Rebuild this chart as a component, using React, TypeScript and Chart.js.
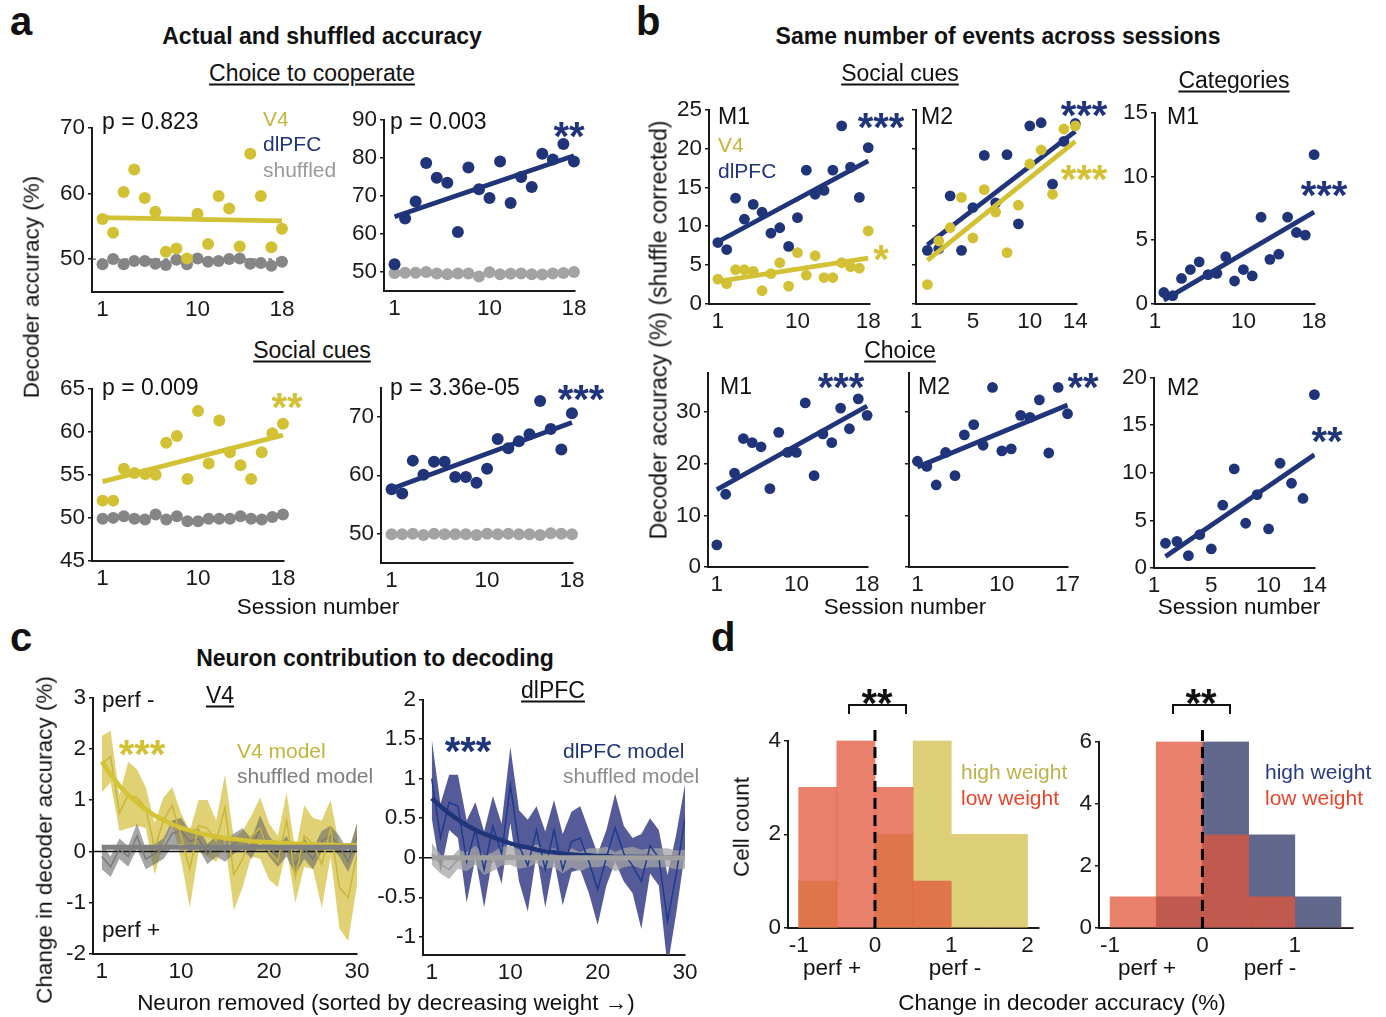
import React, { useEffect, useRef } from 'react';
import { Chart, registerables } from 'chart.js';

Chart.register(...registerables);

const FONT = '"Liberation Sans", Arial, Helvetica, sans-serif';
const INK = '#1a1a1a';
const YEL = '#d3c135';
const YEL_TXT = '#c4b43c';
const BLUE = '#1f3479';
const GREY_D = '#858585';
const GREY_L = '#a3a3a3';
const TICK_SIZE = 22.5;
const R_A = 6;
const R_B = 5.4;

// ---------------- Panel a : actual and shuffled accuracy ----------------
const aChoiceV4 = [56.1, 54.0, 60.2, 63.6, 59.3, 57.2, 51.1, 51.6, 50.1, 56.9, 52.3, 59.6, 57.7, 51.9, 66.0, 59.6, 51.8, 54.6];
const aChoiceV4Shuf = [49.2, 50.0, 49.2, 49.7, 49.7, 49.3, 49.1, 49.9, 49.2, 50.1, 49.6, 49.7, 50.0, 50.1, 49.3, 49.4, 49.0, 49.6];
const aChoiceV4Fit = [56.3, 55.8];
const aChoicePFC = [52.0, 64.0, 68.5, 78.6, 74.7, 73.4, 60.5, 77.4, 71.7, 69.4, 79.0, 68.1, 74.9, 72.3, 81.0, 79.5, 83.6, 79.0];
const aChoicePFCShuf = [49.7, 49.8, 49.8, 50.0, 49.6, 49.4, 49.6, 49.6, 48.8, 49.9, 49.4, 49.5, 49.6, 49.4, 49.3, 49.6, 49.7, 50.0];
const aChoicePFCFit = [64.5, 80.5];
const aSocialV4 = [52.0, 52.0, 55.7, 55.2, 55.1, 55.0, 58.7, 59.5, 54.5, 62.4, 56.3, 61.3, 57.6, 56.1, 54.5, 57.6, 59.8, 60.9];
const aSocialV4Shuf = [49.9, 50.0, 50.2, 49.9, 49.8, 50.4, 49.8, 50.2, 49.6, 49.6, 49.9, 49.9, 49.9, 50.2, 49.9, 49.8, 50.1, 50.4];
const aSocialV4Fit = [54.2, 59.6];
const aSocialPFC = [57.6, 56.9, 62.5, 60.1, 62.3, 62.3, 59.7, 59.7, 58.7, 61.1, 66.2, 64.6, 65.8, 67.0, 72.7, 67.9, 64.4, 70.6];
const aSocialPFCShuf = [49.9, 49.9, 50.0, 49.8, 50.0, 49.9, 49.9, 49.9, 49.8, 50.0, 49.9, 50.0, 49.9, 49.9, 49.8, 50.1, 50.0, 49.9];
const aSocialPFCFit = [57.7, 69.0];
const aChance = 50;
const aXTicks = [1, 10, 18];

// ---------------- Panel b : same number of events ----------------
const bSocM1PFC = [7.9, 7.0, 13.6, 10.9, 12.8, 11.8, 9.1, 9.8, 7.4, 11.1, 17.2, 14.1, 14.6, 17.2, 22.9, 17.6, 13.7, 20.1];
const bSocM1PFCFit = [8.0, 18.4];
const bSocM1V4 = [3.2, 2.6, 4.4, 4.4, 4.2, 1.7, 3.9, 5.3, 2.3, 6.6, 3.7, 6.2, 3.4, 3.4, 5.3, 4.8, 4.6, 9.4];
const bSocM1V4Fit = [2.9, 5.9];
const bSocM2PFC = [6.9, 7.1, 13.9, 6.9, 12.4, 19.1, 13.0, 19.2, 10.3, 22.9, 23.3, 15.4, 20.9, 23.2];
const bSocM2PFCFit = [7.6, 22.2];
const bSocM2V4 = [2.5, 8.1, 9.8, 13.7, 8.5, 14.7, 11.8, 6.6, 12.7, 18.0, 19.8, 14.1, 22.5, 22.9];
const bSocM2V4Fit = [5.6, 20.9];
const bCatM1 = [0.9, 0.65, 2.0, 2.7, 3.3, 2.3, 2.4, 3.7, 1.8, 2.7, 2.2, 6.8, 3.5, 3.9, 6.8, 5.6, 5.4, 11.7];
const bCatM1Fit = [0.3, 7.2];
const bChoiceM1 = [4.3, 14.1, 18.2, 24.9, 24.1, 23.3, 15.2, 26.1, 22.2, 22.2, 31.8, 17.7, 25.8, 24.1, 30.8, 26.8, 32.6, 29.4];
const bChoiceM1Fit = [15.0, 31.2];
const bChoiceM2 = [20.5, 19.5, 15.9, 22.2, 17.7, 25.6, 27.6, 23.6, 34.8, 22.5, 22.9, 29.4, 29.0, 32.4, 22.1, 34.8, 29.7];
const bChoiceM2Fit = [19.4, 31.4];
const bCatM2 = [2.6, 2.8, 1.3, 3.5, 2.0, 6.6, 10.4, 4.7, 7.7, 4.1, 11.0, 8.9, 7.3, 18.2];
const bCatM2Fit = [1.2, 11.9];

// ---------------- Panel c : neuron contribution ----------------
const cV4Mean = [1.7, 1.85, 0.75, 1.1, 1.05, 0.85, 0.05, 0.6, 0.9, 0.3, -0.35, 0.5, 0.45, 0.2, 0.85, -0.45, -0.15, 0.3, 0.45, 0.0, -0.2, 0.6, -0.5, 0.3, 0.15, -0.25, 0.45, -0.7, -0.9, -0.05];
const cV4Sem = [0.55, 0.5, 0.35, 0.65, 0.55, 0.4, 0.5, 0.45, 0.35, 0.45, 0.75, 0.5, 0.55, 0.4, 0.65, 0.7, 0.55, 0.4, 0.6, 0.55, 0.5, 0.55, 0.5, 0.6, 0.5, 0.85, 0.55, 0.8, 0.85, 0.6];
const cV4Fit = [1.75, 1.5, 1.28, 1.1, 0.95, 0.82, 0.7, 0.61, 0.53, 0.46, 0.41, 0.36, 0.32, 0.29, 0.26, 0.24, 0.22, 0.2, 0.19, 0.18, 0.17, 0.16, 0.15, 0.14, 0.14, 0.13, 0.13, 0.12, 0.12, 0.12];
const cV4ShufMean = [-0.1, -0.3, 0.05, -0.1, 0.3, -0.15, -0.05, 0.05, 0.35, 0.4, 0.2, 0.25, -0.05, 0.1, 0.0, 0.15, 0.25, 0.05, 0.45, 0.1, -0.1, 0.1, -0.25, 0.05, -0.15, 0.2, 0.3, 0.1, -0.2, 0.3];
const cV4ShufSem = [0.25, 0.2, 0.2, 0.2, 0.25, 0.2, 0.2, 0.2, 0.25, 0.25, 0.2, 0.2, 0.2, 0.2, 0.2, 0.2, 0.2, 0.2, 0.25, 0.2, 0.2, 0.2, 0.2, 0.2, 0.2, 0.2, 0.2, 0.2, 0.2, 0.25];
const cV4ShufFit = [0.08, 0.08];
const cPFCMean = [1.0, 0.25, 0.7, 0.65, -0.05, 0.35, -0.15, 0.4, 0.05, 0.92, 0.15, -0.1, 0.35, -0.15, 0.35, -0.15, 0.2, 0.25, -0.05, -0.4, 0.0, 0.38, 0.05, -0.1, -0.3, 0.15, 0.0, -0.8, -0.2, 0.5];
const cPFCSem = [0.5, 0.43, 0.35, 0.4, 0.52, 0.35, 0.48, 0.38, 0.38, 0.48, 0.45, 0.58, 0.3, 0.48, 0.38, 0.45, 0.38, 0.4, 0.4, 0.45, 0.35, 0.43, 0.35, 0.35, 0.6, 0.35, 0.35, 0.58, 0.5, 0.43];
const cPFCFit = [0.75, 0.65, 0.56, 0.48, 0.41, 0.35, 0.3, 0.26, 0.22, 0.18, 0.15, 0.13, 0.1, 0.08, 0.07, 0.05, 0.04, 0.03, 0.03, 0.02, 0.02, 0.01, 0.01, 0.01, 0.01, 0.01, 0.0, 0.0, 0.0, 0.0];
const cPFCShufMean = [0.05, -0.08, -0.15, -0.02, -0.05, 0.03, -0.1, -0.05, 0.02, 0.03, -0.02, 0.0, 0.05, -0.02, 0.0, -0.08, 0.0, -0.05, 0.0, 0.0, 0.02, -0.05, 0.0, 0.02, -0.02, 0.0, 0.0, 0.0, -0.03, -0.02];
const cPFCShufSem = [0.14, 0.12, 0.12, 0.12, 0.12, 0.12, 0.12, 0.12, 0.12, 0.12, 0.12, 0.12, 0.12, 0.12, 0.12, 0.12, 0.12, 0.12, 0.12, 0.12, 0.12, 0.12, 0.12, 0.12, 0.12, 0.12, 0.12, 0.12, 0.12, 0.12];
const cPFCShufFit = [0.0, 0.0];
const cXTicks = [1, 10, 20, 30];

// ---------------- Panel d : histograms ----------------
const dBinCenters = [-0.75, -0.25, 0.25, 0.75, 1.25, 1.75];
const dV4Low = [3, 4, 3, 1, 0, 0];
const dV4High = [1, 0, 2, 4, 2, 2];
const dPFCLow = [1, 6, 3, 1, 0, 0];
const dPFCHigh = [0, 1, 6, 3, 1, 0];

type Area = { l: number; t: number; r: number; b: number };
type Dims = { axisW: number; axisH: number; padT: number; padR: number };
const DIMS: Dims = { axisW: 80, axisH: 40, padT: 16, padR: 22 };

function makeAxis(min: number, max: number, ticks: number[], labels: string[] | null, isY: boolean, d: Dims) {
  return {
    type: 'linear',
    position: isY ? 'left' : 'bottom',
    min,
    max,
    offset: false,
    afterBuildTicks: (s: any) => {
      s.ticks = ticks.map((v) => ({ value: v }));
    },
    afterFit: (s: any) => {
      if (isY) s.width = d.axisW;
      else s.height = d.axisH;
    },
    ticks: {
      autoSkip: false,
      maxRotation: 0,
      minRotation: 0,
      padding: isY ? 3 : 4,
      color: INK,
      font: { family: FONT, size: TICK_SIZE },
      callback: (v: any, i: number) => (labels ? labels[i] : String(v)),
    },
    grid: { display: true, offset: false, drawOnChartArea: false, drawTicks: isY, tickLength: 4, color: INK, lineWidth: 1.5 },
    border: { display: true, color: INK, width: 2 },
  };
}

function baseOptions(d: Dims, scales: any) {
  return {
    responsive: false,
    animation: false,
    devicePixelRatio: 1,
    events: [],
    layout: { padding: { top: d.padT, right: d.padR, left: 0, bottom: 0 }, autoPadding: false },
    plugins: { legend: { display: false }, tooltip: { enabled: false } },
    scales,
  };
}

type Pts = { values: number[]; color: string; r: number; order: number };
type Fit = { ends: number[]; x: number[]; color: string; order: number };
type ScatterSpec = {
  area: Area;
  x: number[];
  y: number[];
  xTicks: number[];
  xLabels?: string[];
  yTicks: number[];
  yLabels?: string[];
  pts: Pts[];
  fits: Fit[];
  chance?: number;
};

function scatterConfig(s: ScatterSpec, d: Dims) {
  const datasets: any[] = [];
  s.pts.forEach((p) =>
    datasets.push({
      data: p.values.map((v, i) => ({ x: i + 1, y: v })),
      showLine: false,
      pointRadius: p.r,
      pointBackgroundColor: p.color,
      pointBorderWidth: 0,
      borderColor: p.color,
      order: p.order,
      clip: false,
    })
  );
  s.fits.forEach((f) =>
    datasets.push({
      data: f.x.map((xv, i) => ({ x: xv, y: f.ends[i] })),
      borderColor: f.color,
      borderWidth: 4.8,
      pointRadius: 0,
      order: f.order,
    })
  );
  if (s.chance !== undefined) {
    datasets.push({
      data: [
        { x: s.x[0], y: s.chance },
        { x: s.x[1], y: s.chance },
      ],
      borderColor: '#333',
      borderWidth: 1,
      borderDash: [4, 4],
      pointRadius: 0,
      order: 10,
    });
  }
  return {
    type: 'line',
    data: { datasets },
    options: baseOptions(d, {
      x: makeAxis(s.x[0], s.x[1], s.xTicks, s.xLabels || null, false, d),
      y: makeAxis(s.y[0], s.y[1], s.yTicks, s.yLabels || null, true, d),
    }),
  };
}

type BandSpec = {
  mean: number[];
  sem: number[];
  fit: number[];
  shufMean: number[];
  shufSem: number[];
  shufFit: number[];
  band: string;
  line: string;
  fitColor: string;
  shufBand: string;
  shufLine: string;
  shufFitColor: string;
  y: number[];
  yTicks: number[];
  yLabels: string[];
};

function bandConfig(s: BandSpec, d: Dims) {
  const pts = (arr: number[]) => arr.map((v, i) => ({ x: i + 1, y: v }));
  const plain = { pointRadius: 0, borderWidth: 0 };
  const n = s.mean.length;
  const datasets: any[] = [
    { data: pts(s.mean.map((m, i) => m + s.sem[i])), ...plain, fill: '+1', backgroundColor: s.band, order: 8 },
    { data: pts(s.mean.map((m, i) => m - s.sem[i])), ...plain, fill: false, order: 8 },
    { data: pts(s.shufMean.map((m, i) => m + s.shufSem[i])), ...plain, fill: '+1', backgroundColor: s.shufBand, order: 7 },
    { data: pts(s.shufMean.map((m, i) => m - s.shufSem[i])), ...plain, fill: false, order: 7 },
    { data: [{ x: 0, y: 0 }, { x: n, y: 0 }], pointRadius: 0, borderWidth: 1.5, borderColor: '#111', order: 6 },
    { data: pts(s.mean), pointRadius: 0, borderWidth: 1.5, borderColor: s.line, order: 5 },
    { data: pts(s.shufMean), pointRadius: 0, borderWidth: 1.5, borderColor: s.shufLine, order: 5 },
    { data: pts(s.fit), pointRadius: 0, borderWidth: 4.5, borderColor: s.fitColor, order: 2 },
    { data: [{ x: 1, y: s.shufFit[0] }, { x: n, y: s.shufFit[1] }], pointRadius: 0, borderWidth: 5, borderColor: s.shufFitColor, order: 1 },
  ];
  return {
    type: 'line',
    data: { datasets },
    options: baseOptions(d, {
      x: makeAxis(0, 30, cXTicks, null, false, d),
      y: makeAxis(s.y[0], s.y[1], s.yTicks, s.yLabels, true, d),
    }),
  };
}

const zeroDash = {
  id: 'zeroDash',
  afterDatasetsDraw(chart: any) {
    const { ctx, chartArea, scales } = chart;
    const px = scales.x.getPixelForValue(0);
    ctx.save();
    ctx.setLineDash([11, 6]);
    ctx.lineWidth = 3;
    ctx.strokeStyle = '#000';
    ctx.beginPath();
    ctx.moveTo(px, chartArea.bottom);
    ctx.lineTo(px, chartArea.top - 12);
    ctx.stroke();
    ctx.restore();
  },
};

type HistSpec = { low: number[]; high: number[]; highColor: string; x: number[]; xTicks: number[]; y: number[]; yTicks: number[] };

function histConfig(s: HistSpec, d: Dims) {
  const common = { barPercentage: 1, categoryPercentage: 1, grouped: false, borderWidth: 0 };
  return {
    type: 'bar',
    data: {
      datasets: [
        { data: dBinCenters.map((c, i) => ({ x: c, y: s.low[i] })), backgroundColor: 'rgba(224,86,59,0.75)', order: 0, ...common },
        { data: dBinCenters.map((c, i) => ({ x: c, y: s.high[i] })), backgroundColor: s.highColor, order: 1, ...common },
      ],
    },
    options: baseOptions(d, {
      x: makeAxis(s.x[0], s.x[1], s.xTicks, null, false, d),
      y: makeAxis(s.y[0], s.y[1], s.yTicks, null, true, d),
    }),
    plugins: [zeroDash],
  };
}

function ChartBox({ area, make }: { area: Area; make: (d: Dims) => any }) {
  const ref = useRef<HTMLCanvasElement | null>(null);
  const d = DIMS;
  const w = area.r - area.l + d.axisW + d.padR;
  const h = area.b - area.t + d.padT + d.axisH;
  useEffect(() => {
    if (!ref.current) return;
    const chart = new Chart(ref.current, make(d));
    return () => chart.destroy();
  }, []);
  return (
    <canvas
      ref={ref}
      width={w}
      height={h}
      style={{ position: 'absolute', left: area.l - d.axisW, top: area.t - d.padT, width: w, height: h, display: 'block' }}
    />
  );
}

const blank = (n: number) => Array(n).fill('');

const scatterSpecs: ScatterSpec[] = [
  {
    area: { l: 92, t: 127, r: 283, b: 292 }, x: [0, 18.1], y: [45, 70], xTicks: aXTicks, yTicks: [50, 60, 70],
    pts: [
      { values: aChoiceV4, color: YEL, r: R_A, order: 1 },
      { values: aChoiceV4Shuf, color: GREY_D, r: R_A, order: 2 },
    ],
    fits: [{ ends: aChoiceV4Fit, x: [1, 18], color: YEL, order: 0 }],
    chance: aChance,
  },
  {
    area: { l: 384, t: 119, r: 575, b: 291 }, x: [0, 18.1], y: [45, 90], xTicks: aXTicks, yTicks: [50, 60, 70, 80, 90],
    pts: [
      { values: aChoicePFC, color: BLUE, r: R_A, order: 1 },
      { values: aChoicePFCShuf, color: GREY_L, r: R_A, order: 2 },
    ],
    fits: [{ ends: aChoicePFCFit, x: [1, 18], color: BLUE, order: 0 }],
  },
  {
    area: { l: 92, t: 388, r: 284, b: 561 }, x: [0, 18.1], y: [45, 65], xTicks: aXTicks, yTicks: [45, 50, 55, 60, 65],
    pts: [
      { values: aSocialV4, color: YEL, r: R_A, order: 1 },
      { values: aSocialV4Shuf, color: GREY_D, r: R_A, order: 2 },
    ],
    fits: [{ ends: aSocialV4Fit, x: [1, 18], color: YEL, order: 0 }],
  },
  {
    area: { l: 381, t: 387, r: 573, b: 563 }, x: [0, 18.1], y: [45, 75], xTicks: aXTicks, yTicks: [50, 60, 70],
    pts: [
      { values: aSocialPFC, color: BLUE, r: R_A, order: 1 },
      { values: aSocialPFCShuf, color: GREY_L, r: R_A, order: 2 },
    ],
    fits: [{ ends: aSocialPFCFit, x: [1, 18], color: BLUE, order: 0 }],
  },
  {
    area: { l: 709, t: 109, r: 870, b: 304 }, x: [0, 18.2], y: [0, 25], xTicks: [1, 10, 18], yTicks: [0, 5, 10, 15, 20, 25],
    pts: [
      { values: bSocM1PFC, color: BLUE, r: R_B, order: 1 },
      { values: bSocM1V4, color: YEL, r: R_B, order: 3 },
    ],
    fits: [
      { ends: bSocM1PFCFit, x: [1, 18], color: BLUE, order: 0 },
      { ends: bSocM1V4Fit, x: [1, 18], color: YEL, order: 2 },
    ],
  },
  {
    area: { l: 916, t: 109, r: 1077, b: 304 }, x: [0, 14.15], y: [0, 25], xTicks: [0, 5, 10, 14], xLabels: ['1', '5', '10', '14'],
    yTicks: [0, 5, 10, 15, 20, 25], yLabels: blank(6),
    pts: [
      { values: bSocM2V4, color: YEL, r: R_B, order: 0 },
      { values: bSocM2PFC, color: BLUE, r: R_B, order: 3 },
    ],
    fits: [
      { ends: bSocM2V4Fit, x: [1, 14], color: YEL, order: 1 },
      { ends: bSocM2PFCFit, x: [1, 14], color: BLUE, order: 2 },
    ],
  },
  {
    area: { l: 1155, t: 112, r: 1315, b: 304 }, x: [0, 18.1], y: [0, 15], xTicks: [0, 10, 18], xLabels: ['1', '10', '18'],
    yTicks: [0, 5, 10, 15],
    pts: [{ values: bCatM1, color: BLUE, r: R_B, order: 1 }],
    fits: [{ ends: bCatM1Fit, x: [1, 18], color: BLUE, order: 0 }],
  },
  {
    area: { l: 708, t: 372, r: 868, b: 567 }, x: [0, 18.1], y: [0, 37.7], xTicks: [1, 10, 18], yTicks: [0, 10, 20, 30],
    pts: [{ values: bChoiceM1, color: BLUE, r: R_B, order: 1 }],
    fits: [{ ends: bChoiceM1Fit, x: [1, 18], color: BLUE, order: 0 }],
  },
  {
    area: { l: 909, t: 372, r: 1068, b: 567 }, x: [0.1, 17.05], y: [0, 37.7], xTicks: [1, 10, 17], yTicks: [0, 10, 20, 30],
    yLabels: blank(4),
    pts: [{ values: bChoiceM2, color: BLUE, r: R_B, order: 1 }],
    fits: [{ ends: bChoiceM2Fit, x: [1, 17], color: BLUE, order: 0 }],
  },
  {
    area: { l: 1154, t: 377, r: 1315, b: 568 }, x: [0, 14.05], y: [0, 20], xTicks: [0, 5, 10, 14], xLabels: ['1', '5', '10', '14'],
    yTicks: [0, 5, 10, 15, 20],
    pts: [{ values: bCatM2, color: BLUE, r: R_B, order: 1 }],
    fits: [{ ends: bCatM2Fit, x: [1, 14], color: BLUE, order: 0 }],
  },
];

const bandSpecs: { area: Area; spec: BandSpec }[] = [
  {
    area: { l: 93, t: 697, r: 357, b: 954 },
    spec: {
      mean: cV4Mean, sem: cV4Sem, fit: cV4Fit, shufMean: cV4ShufMean, shufSem: cV4ShufSem, shufFit: cV4ShufFit,
      band: 'rgba(212,194,70,0.75)', line: '#c9b63a', fitColor: '#d6c235',
      shufBand: 'rgba(105,105,105,0.6)', shufLine: '#7a7a7a', shufFitColor: '#808080',
      y: [-2, 3], yTicks: [-2, -1, 0, 1, 2, 3], yLabels: ['-2', '-1', '0', '1', '2', '3'],
    },
  },
  {
    area: { l: 423, t: 699, r: 685, b: 955 },
    spec: {
      mean: cPFCMean, sem: cPFCSem, fit: cPFCFit, shufMean: cPFCShufMean, shufSem: cPFCShufSem, shufFit: cPFCShufFit,
      band: 'rgba(55,62,135,0.85)', line: '#1e3a8c', fitColor: '#1f3479',
      shufBand: 'rgba(165,165,165,0.75)', shufLine: '#9a9a9a', shufFitColor: '#a0a0a0',
      y: [-1.23, 2], yTicks: [-1, -0.5, 0, 0.5, 1, 1.5, 2], yLabels: ['-1', '-0.5', '0', '0.5', '1', '1.5', '2'],
    },
  },
];

const histSpecs: { area: Area; spec: HistSpec }[] = [
  {
    area: { l: 788, t: 740, r: 1039, b: 928 },
    spec: { low: dV4Low, high: dV4High, highColor: 'rgb(221,207,120)', x: [-1.14, 2.15], xTicks: [-1, 0, 1, 2], y: [0, 4], yTicks: [0, 2, 4] },
  },
  {
    area: { l: 1099, t: 741, r: 1353, b: 928 },
    spec: { low: dPFCLow, high: dPFCHigh, highColor: 'rgb(98,103,140)', x: [-1.12, 1.63], xTicks: [-1, 0, 1], y: [0, 6], yTicks: [0, 2, 4, 6] },
  },
];

type L = { x: number; y: number; text: string; size?: number; color?: string; bold?: boolean; anchor?: 'left' | 'center'; underline?: boolean; rotate?: boolean };

function Label(p: L) {
  const size = p.size ?? 22.5;
  const tr = p.rotate ? 'translate(-50%,-50%) rotate(-90deg)' : p.anchor === 'left' ? 'translate(0,-50%)' : 'translate(-50%,-50%)';
  return (
    <div
      style={{
        position: 'absolute',
        left: p.x,
        top: p.y,
        transform: tr,
        fontSize: size,
        lineHeight: 1,
        fontWeight: p.bold ? 700 : 400,
        color: p.color ?? '#111',
        whiteSpace: 'nowrap',
        textDecoration: p.underline ? 'underline' : 'none',
        textUnderlineOffset: 3,
        textDecorationThickness: 1.5,
      }}
    >
      {p.text}
    </div>
  );
}

type S = { x: number; y: number; text: string; color: string };
function Stars(p: S) {
  const size = 40;
  return (
    <div
      style={{
        position: 'absolute',
        left: p.x,
        top: p.y - 0.27 * size,
        transform: 'translateX(-50%)',
        fontSize: size,
        lineHeight: 1,
        fontWeight: 700,
        color: p.color,
        whiteSpace: 'nowrap',
      }}
    >
      {p.text}
    </div>
  );
}

const labels: L[] = [
  { x: 10, y: 21, text: 'a', size: 40, bold: true, anchor: 'left' },
  { x: 636, y: 21, text: 'b', size: 40, bold: true, anchor: 'left' },
  { x: 10, y: 637, text: 'c', size: 40, bold: true, anchor: 'left' },
  { x: 711, y: 637, text: 'd', size: 40, bold: true, anchor: 'left' },
  // a
  { x: 322, y: 36, text: 'Actual and shuffled accuracy', size: 23, bold: true },
  { x: 312, y: 73, text: 'Choice to cooperate', size: 23, underline: true },
  { x: 312, y: 350, text: 'Social cues', size: 23, underline: true },
  { x: 102, y: 121, text: 'p = 0.823', size: 23, anchor: 'left' },
  { x: 263, y: 118, text: 'V4', size: 21, color: YEL_TXT, anchor: 'left' },
  { x: 263, y: 143, text: 'dlPFC', size: 21, color: BLUE, anchor: 'left' },
  { x: 263, y: 169, text: 'shuffled', size: 21, color: '#999', anchor: 'left' },
  { x: 390, y: 121, text: 'p = 0.003', size: 23, anchor: 'left' },
  { x: 102, y: 387, text: 'p = 0.009', size: 23, anchor: 'left' },
  { x: 390, y: 387, text: 'p = 3.36e-05', size: 23, anchor: 'left' },
  { x: 32, y: 287, text: 'Decoder accuracy (%)', rotate: true },
  { x: 318, y: 607, text: 'Session number' },
  // b
  { x: 998, y: 36, text: 'Same number of events across sessions', size: 23, bold: true },
  { x: 900, y: 73, text: 'Social cues', size: 23, underline: true },
  { x: 1234, y: 80, text: 'Categories', size: 23, underline: true },
  { x: 900, y: 350, text: 'Choice', size: 23, underline: true },
  { x: 718, y: 116, text: 'M1', size: 23, anchor: 'left' },
  { x: 718, y: 144, text: 'V4', size: 21, color: YEL_TXT, anchor: 'left' },
  { x: 718, y: 170, text: 'dlPFC', size: 21, color: BLUE, anchor: 'left' },
  { x: 921, y: 116, text: 'M2', size: 23, anchor: 'left' },
  { x: 1167, y: 116, text: 'M1', size: 23, anchor: 'left' },
  { x: 720, y: 386, text: 'M1', size: 23, anchor: 'left' },
  { x: 918, y: 386, text: 'M2', size: 23, anchor: 'left' },
  { x: 1167, y: 387, text: 'M2', size: 23, anchor: 'left' },
  { x: 659, y: 330, text: 'Decoder accuracy (%) (shuffle corrected)', size: 23, rotate: true },
  { x: 905, y: 607, text: 'Session number' },
  { x: 1239, y: 607, text: 'Session number' },
  // c
  { x: 375, y: 658, text: 'Neuron contribution to decoding', size: 23, bold: true },
  { x: 220, y: 695, text: 'V4', size: 23, underline: true },
  { x: 553, y: 690, text: 'dlPFC', size: 23, underline: true },
  { x: 102, y: 700, text: 'perf -', anchor: 'left' },
  { x: 102, y: 930, text: 'perf +', anchor: 'left' },
  { x: 237, y: 750, text: 'V4 model', size: 21, color: YEL_TXT, anchor: 'left' },
  { x: 237, y: 775, text: 'shuffled model', size: 21, color: '#7d7d7d', anchor: 'left' },
  { x: 563, y: 750, text: 'dlPFC model', size: 21, color: BLUE, anchor: 'left' },
  { x: 563, y: 775, text: 'shuffled model', size: 21, color: '#8a8a8a', anchor: 'left' },
  { x: 45, y: 840, text: 'Change in decoder accuracy (%)', rotate: true },
  { x: 386, y: 1003, text: 'Neuron removed (sorted by decreasing weight \u2192)' },
  // d
  { x: 961, y: 771, text: 'high weight', size: 21, color: '#bcb24a', anchor: 'left' },
  { x: 961, y: 797, text: 'low weight', size: 21, color: '#e8442c', anchor: 'left' },
  { x: 1265, y: 771, text: 'high weight', size: 21, color: '#2a3a80', anchor: 'left' },
  { x: 1265, y: 797, text: 'low weight', size: 21, color: '#e8442c', anchor: 'left' },
  { x: 742, y: 827, text: 'Cell count', rotate: true },
  { x: 832, y: 968, text: 'perf +' },
  { x: 955, y: 968, text: 'perf -' },
  { x: 1147, y: 968, text: 'perf +' },
  { x: 1270, y: 968, text: 'perf -' },
  { x: 1062, y: 1003, text: 'Change in decoder accuracy (%)' },
];

const stars: S[] = [
  { x: 569, y: 127, text: '**', color: BLUE },
  { x: 287, y: 398, text: '**', color: YEL },
  { x: 581, y: 390, text: '***', color: BLUE },
  { x: 881, y: 118, text: '***', color: BLUE },
  { x: 881, y: 250, text: '*', color: YEL },
  { x: 1084, y: 106, text: '***', color: BLUE },
  { x: 1084, y: 170, text: '***', color: YEL },
  { x: 1324, y: 186, text: '***', color: BLUE },
  { x: 841, y: 378, text: '***', color: BLUE },
  { x: 1083, y: 378, text: '**', color: BLUE },
  { x: 1327, y: 432, text: '**', color: BLUE },
  { x: 142, y: 745, text: '***', color: YEL },
  { x: 468, y: 742, text: '***', color: BLUE },
  { x: 877, y: 694, text: '**', color: '#111' },
  { x: 1201, y: 694, text: '**', color: '#111' },
];

const brackets = [
  { l: 848, r: 907 },
  { l: 1172, r: 1231 },
];

export default function App() {
  return (
    <div
      style={{
        position: 'absolute',
        left: 0,
        top: 0,
        width: 1386,
        height: 1017,
        background: '#fff',
        fontFamily: FONT,
        overflow: 'hidden',
      }}
    >
      {scatterSpecs.map((s, i) => (
        <ChartBox key={'s' + i} area={s.area} make={(d) => scatterConfig(s, d)} />
      ))}
      {bandSpecs.map((s, i) => (
        <ChartBox key={'b' + i} area={s.area} make={(d) => bandConfig(s.spec, d)} />
      ))}
      {histSpecs.map((s, i) => (
        <ChartBox key={'h' + i} area={s.area} make={(d) => histConfig(s.spec, d)} />
      ))}
      {brackets.map((b, i) => (
        <div
          key={'br' + i}
          style={{
            position: 'absolute',
            left: b.l,
            top: 704,
            width: b.r - b.l,
            height: 10,
            borderTop: '2px solid #111',
            borderLeft: '2px solid #111',
            borderRight: '2px solid #111',
            boxSizing: 'border-box',
          }}
        />
      ))}
      {labels.map((l, i) => (
        <Label key={'l' + i} {...l} />
      ))}
      {stars.map((s, i) => (
        <Stars key={'st' + i} {...s} />
      ))}
    </div>
  );
}
